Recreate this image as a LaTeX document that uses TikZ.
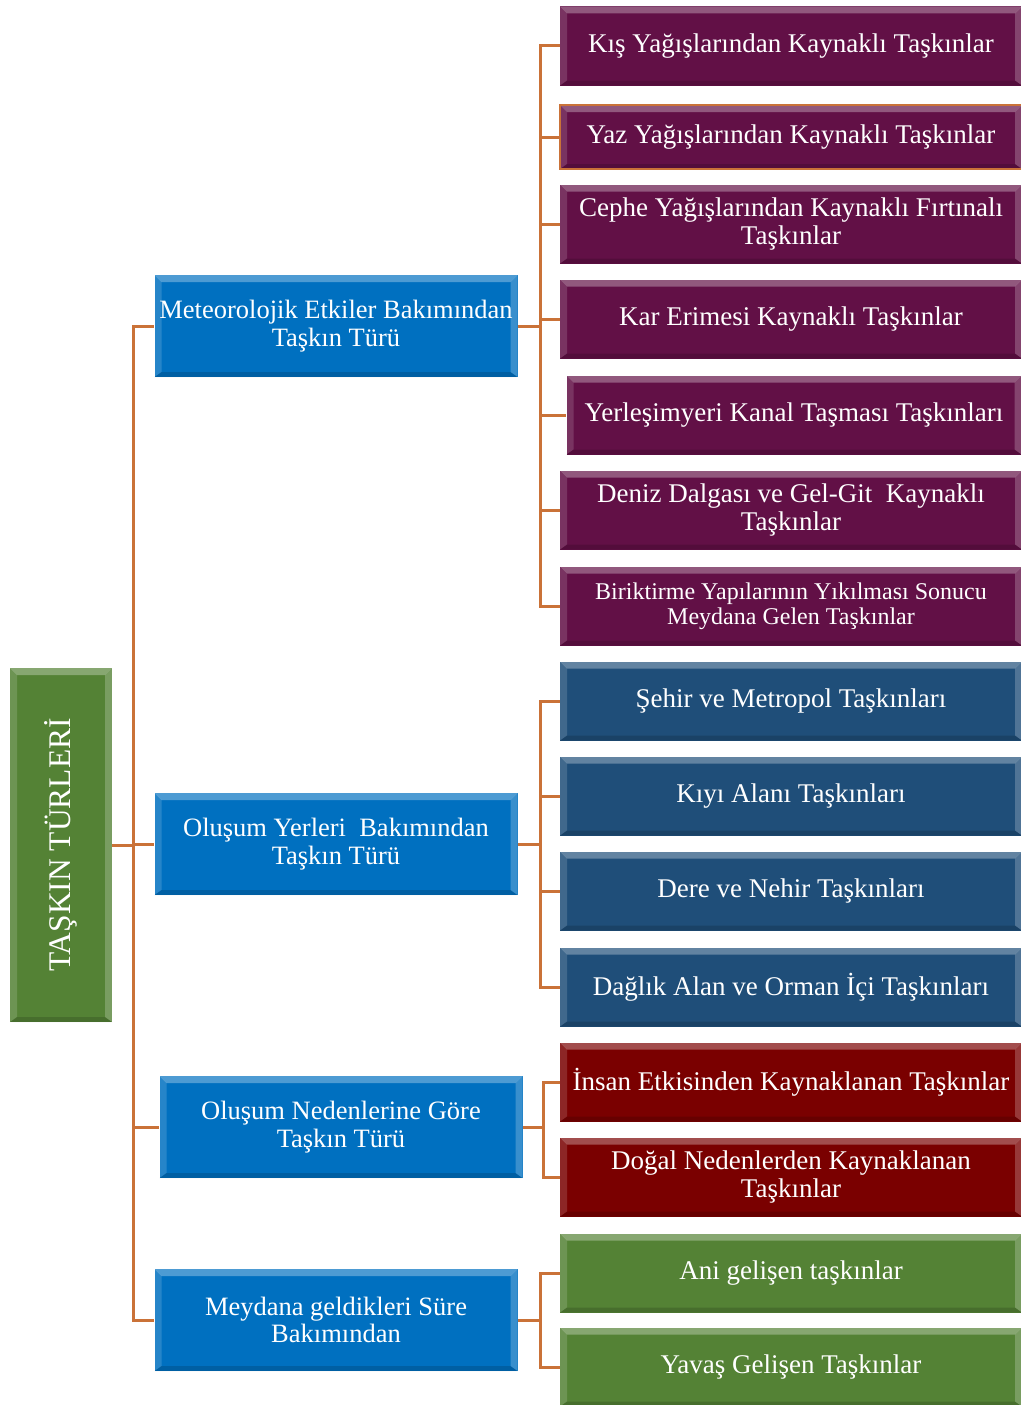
\documentclass[tikz,border=0pt]{standalone}
\usepackage{fontspec}
\setmainfont{Liberation Serif}
\definecolor{rootgreen}{RGB}{84,130,53}
\definecolor{mainblue}{RGB}{0,112,192}
\definecolor{plum}{RGB}{98,16,70}
\definecolor{navy}{RGB}{31,78,121}
\definecolor{maroon}{RGB}{122,0,0}
\definecolor{leaf}{RGB}{84,130,53}
\definecolor{linkc}{RGB}{202,114,56}
\tikzset{
  bevel/.style={path picture={
      \path (path picture bounding box.north west) coordinate (pnw)
            (path picture bounding box.south east) coordinate (pse);
      \fill[white,opacity=.3] (pnw) -- (pnw -| pse) -- ([shift={(-7pt,-7pt)}]pnw -| pse)
            -- ([shift={(7pt,-7pt)}]pnw) -- cycle;
      \fill[white,opacity=.15] (pnw) -- ([shift={(7pt,-7pt)}]pnw)
            -- ([shift={(7pt,5pt)}]pnw |- pse) -- (pnw |- pse) -- cycle;
      \fill[white,opacity=.22] (pse) -- (pse |- pnw) -- ([shift={(-7pt,-7pt)}]pse |- pnw)
            -- ([shift={(-7pt,5pt)}]pse) -- cycle;
      \fill[black,opacity=.15] (pse) -- ([shift={(-7pt,5pt)}]pse)
            -- ([shift={(7pt,5pt)}]pnw |- pse) -- (pnw |- pse) -- cycle;
    }},
  catbox/.style={bevel,fill=mainblue,text=white,minimum width=363pt,minimum height=102pt,
    align=center,inner sep=0pt,font=\fontsize{26.5}{27.5}\selectfont},
  itembox/.style={bevel,text=white,minimum width=462pt,minimum height=79pt,
    align=center,inner sep=0pt,font=\fontsize{27}{27.5}\selectfont},
  elbow/.style={to path={|- (\tikztotarget)}}
}
\begin{document}
\begin{tikzpicture}[x=1pt,y=-1pt]
\useasboundingbox (0,0) rectangle (1020,1405);
% root
\node[bevel,fill=rootgreen,text=white,minimum width=102pt,minimum height=354pt,inner sep=0pt,
  font=\fontsize{31.5}{34}\selectfont] (root) at (61,845) {\rotatebox{90}{TAŞKIN TÜRLERİ}};
% categories
\begin{scope}[every node/.style={catbox}]
  \node (meteo) at (336,326) {Meteorolojik Etkiler Bakımından\\Taşkın Türü};
  \node (yer) at (336,844) {Oluşum Yerleri\ \ Bakımından\\Taşkın Türü};
  \node (neden) at (341,1127) {Oluşum Nedenlerine Göre\\Taşkın Türü};
  \node (sure) at (336,1320) {Meydana geldikleri Süre\\Bakımından};
\end{scope}
% meteorological
\begin{scope}[every node/.style={itembox,fill=plum}]
  \node (kis) at (791,46) {Kış Yağışlarından Kaynaklı Taşkınlar};
  \node[draw=linkc,line width=2pt,minimum height=64pt] (yaz) at (791,137) {Yaz Yağışlarından Kaynaklı Taşkınlar};
  \node (cephe) at (791,224) {Cephe Yağışlarından Kaynaklı Fırtınalı\\Taşkınlar};
  \node (kar) at (791,319) {Kar Erimesi Kaynaklı Taşkınlar};
  \node[minimum width=455pt] (kanal) at (794,415) {Yerleşimyeri Kanal Taşması Taşkınları};
  \node (deniz) at (791,510) {Deniz Dalgası ve Gel-Git\ \ Kaynaklı\\Taşkınlar};
  \node[font=\fontsize{24}{25}\selectfont] (birik) at (791,606) {Biriktirme Yapılarının Yıkılması Sonucu\\Meydana Gelen Taşkınlar};
\end{scope}
% places
\begin{scope}[every node/.style={itembox,fill=navy}]
  \node (sehir) at (791,701) {Şehir ve Metropol Taşkınları};
  \node (kiyi) at (791,796) {Kıyı Alanı Taşkınları};
  \node (dere) at (791,891) {Dere ve Nehir Taşkınları};
  \node (dag) at (791,987) {Dağlık Alan ve Orman İçi Taşkınları};
\end{scope}
% causes
\begin{scope}[every node/.style={itembox,fill=maroon}]
  \node (insan) at (791,1082) {İnsan Etkisinden Kaynaklanan Taşkınlar};
  \node (dogal) at (791,1177) {Doğal Nedenlerden Kaynaklanan\\Taşkınlar};
\end{scope}
% duration
\begin{scope}[every node/.style={itembox,fill=leaf}]
  \node (ani) at (791,1273) {Ani gelişen taşkınlar};
  \node (yavas) at (791,1367) {Yavaş Gelişen Taşkınlar};
\end{scope}
% forks
\coordinate (rfork) at (133,845);
\coordinate (mfork) at (540,326);
\coordinate (yfork) at (540,844);
\coordinate (nfork) at (543,1127);
\coordinate (sfork) at (540,1320);
\begin{scope}[every edge/.style={draw=linkc,line width=3pt}]
  \path (root) edge (rfork);
  \path (rfork) edge[elbow] (meteo);
  \path (rfork) edge[elbow] (yer);
  \path (rfork) edge[elbow] (neden);
  \path (rfork) edge[elbow] (sure);
  \path (meteo) edge (mfork);
  \path (mfork) edge[elbow] (kis);
  \path (mfork) edge[elbow] (yaz);
  \path (mfork) edge[elbow] (cephe);
  \path (mfork) edge[elbow] (kar);
  \path (mfork) edge[elbow] (kanal);
  \path (mfork) edge[elbow] (deniz);
  \path (mfork) edge[elbow] (birik);
  \path (yer) edge (yfork);
  \path (yfork) edge[elbow] (sehir);
  \path (yfork) edge[elbow] (kiyi);
  \path (yfork) edge[elbow] (dere);
  \path (yfork) edge[elbow] (dag);
  \path (neden) edge (nfork);
  \path (nfork) edge[elbow] (insan);
  \path (nfork) edge[elbow] (dogal);
  \path (sure) edge (sfork);
  \path (sfork) edge[elbow] (ani);
  \path (sfork) edge[elbow] (yavas);
\end{scope}
\end{tikzpicture}
\end{document}
